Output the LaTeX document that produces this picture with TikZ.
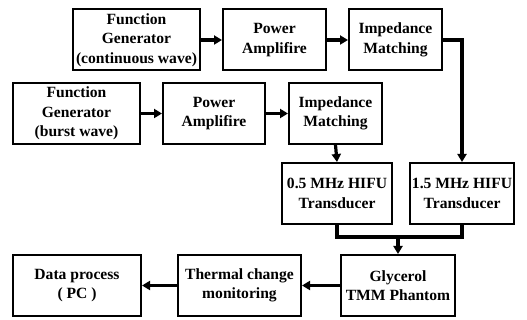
\documentclass[tikz,border=0pt]{standalone}
\usepackage{fontspec}
\setmainfont{Liberation Serif}
\usetikzlibrary{arrows.meta}
\begin{document}
\begin{tikzpicture}[x=1pt,y=-1pt,
  box/.style={draw, line width=2pt, align=center, inner sep=0pt,
    font=\fontsize{15.6}{19.5}\selectfont\bfseries, minimum height=61pt},
  conn/.style={line width=3.2pt},
  arr/.style={conn, -{Triangle[length=8pt,width=9pt]}}]
\useasboundingbox (0,0) rectangle (527,320);
\node[box, minimum width=127pt] (A) at (136.5,40) {Function\\Generator\\(continuous wave)};
\node[box, minimum width=103pt] (B) at (274.5,40) {Power\\Amplifire};
\node[box, minimum width=93pt] (C) at (395.5,40) {Impedance\\Matching};
\node[box, minimum width=127pt] (D) at (76.5,113.5) {Function\\Generator\\(burst wave)};
\node[box, minimum width=102pt] (E) at (214,113.5) {Power\\Amplifire};
\node[box, minimum width=93pt] (F) at (335.5,113.5) {Impedance\\Matching};
\node[box, minimum width=110pt] (G) at (337,193.5) {0.5 MHz HIFU\\Transducer};
\node[box, minimum width=104pt] (H) at (462,193.5) {1.5 MHz HIFU\\Transducer};
\node[box, minimum width=114pt] (P) at (398,285.5) {Glycerol\\TMM Phantom};
\node[box, minimum width=123pt] (T) at (239.5,285.5) {Thermal change\\monitoring};
\node[box, minimum width=128pt] (K) at (77,285.5) {Data process\\( PC )};
\draw[arr] (A) -- (B);
\draw[arr] (B) -- (C);
\draw[arr] (D) -- (E);
\draw[arr] (E) -- (F);
\draw[arr] (C.east) -| (H.north);
\draw[arr] (F.south) -- (G.north);
\coordinate (mid) at ([yshift=17pt]P.north);
\draw[conn] (G.south) |- (mid) -| (H.south);
\draw[arr] (mid) -- (P.north);
\draw[arr] (P) -- (T);
\draw[arr] (T) -- (K);
\end{tikzpicture}
\end{document}
